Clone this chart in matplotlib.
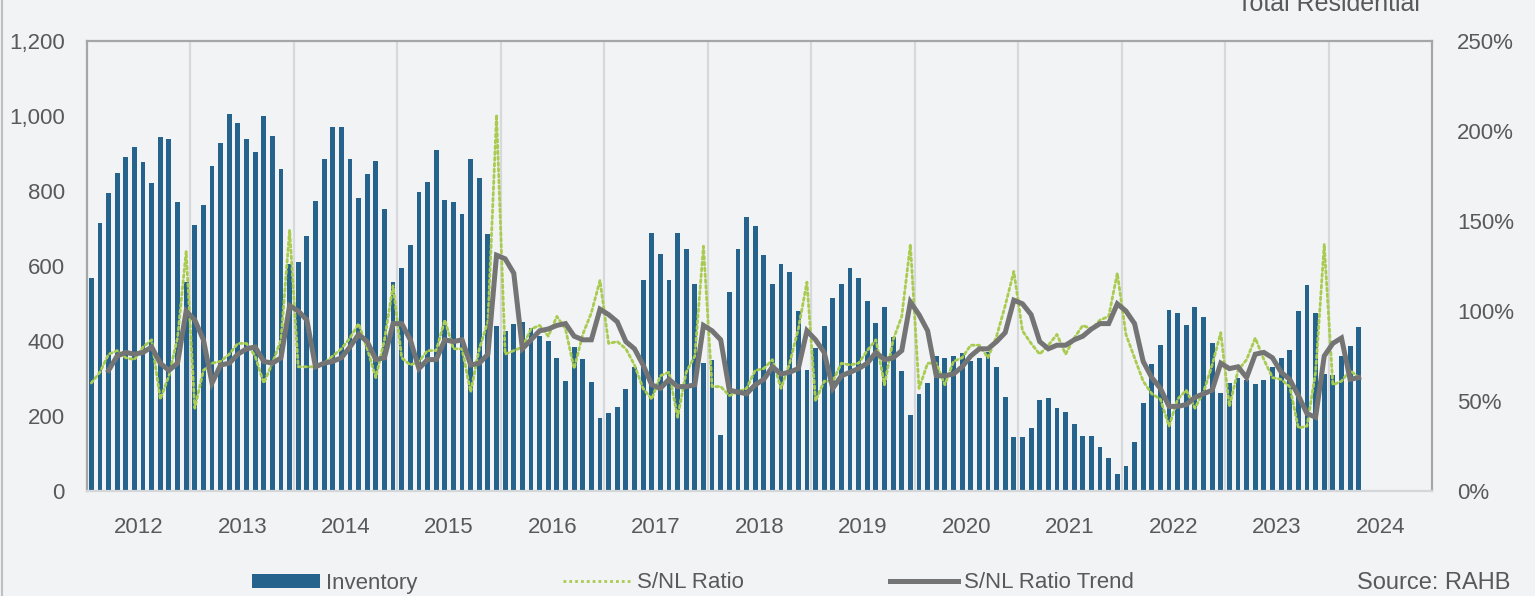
import matplotlib
matplotlib.use("Agg")
import matplotlib.pyplot as plt
from matplotlib.patches import Patch
from matplotlib.lines import Line2D
import numpy as np

plt.rcParams['font.family'] = ['Liberation Sans', 'DejaVu Sans']

# ---------------- data (monthly, Jan 2012 .. Apr 2024) ----------------
years = ['2012', '2013', '2014', '2015', '2016', '2017', '2018',
         '2019', '2020', '2021', '2022', '2023', '2024']

inventory = [
    567, 714, 794, 849, 892, 917, 878, 821, 943, 940, 770, 557,      # 2012
    710, 762, 867, 927, 1006, 982, 938, 904, 999, 946, 858, 605,     # 2013
    612, 679, 773, 886, 972, 970, 885, 781, 845, 880, 753, 557,      # 2014
    595, 657, 798, 824, 909, 777, 770, 739, 885, 835, 686, 440,      # 2015
    428, 445, 452, 435, 414, 401, 354, 294, 383, 352, 292, 195,      # 2016
    207, 225, 272, 330, 562, 688, 632, 562, 688, 646, 551, 341,      # 2017
    350, 150, 530, 645, 731, 707, 629, 553, 605, 584, 479, 322,      # 2018
    381, 439, 515, 551, 594, 567, 508, 448, 491, 411, 320, 202,      # 2019
    259, 287, 361, 356, 359, 368, 348, 356, 370, 331, 250, 144,      # 2020
    143, 169, 242, 247, 221, 212, 180, 148, 147, 117, 87, 45,        # 2021
    68, 131, 236, 340, 389, 484, 475, 444, 490, 463, 396, 261,       # 2022
    287, 301, 296, 285, 297, 330, 356, 377, 479, 549, 474, 312,      # 2023
    309, 359, 388, 438,                                              # 2024
]

snl_ratio = [
    60, 66, 76, 78, 74, 73, 80, 84, 51, 64, 85, 133,
    46, 67, 71, 72, 76, 82, 82, 75, 60, 71, 84, 145,
    69, 69, 69, 71, 75, 79, 85, 93, 79, 63, 84, 114,
    74, 70, 72, 78, 78, 95, 79, 79, 55, 79, 94, 209,
    76, 78, 80, 90, 92, 86, 97, 90, 68, 87, 99, 117,
    82, 83, 79, 70, 57, 51, 64, 66, 41, 66, 75, 136,
    58, 58, 53, 55, 57, 67, 68, 73, 57, 71, 90, 116,
    50, 61, 61, 71, 70, 71, 78, 84, 59, 84, 97, 137,
    57, 71, 71, 59, 72, 74, 81, 81, 74, 86, 103, 122,
    89, 82, 76, 81, 87, 76, 85, 92, 90, 95, 97, 121,
    87, 74, 61, 54, 51, 36, 51, 56, 46, 55, 70, 88,
    47, 67, 73, 85, 73, 63, 62, 58, 35, 36, 66, 137,
    59, 61, 67, 63,
]

# trend starts with March 2012 (third month)
trend_start = 2
snl_trend = [
    67, 75, 77, 76, 77, 80, 71, 67, 71, 100,
    95, 84, 60, 70, 71, 76, 79, 80, 72, 71, 74, 103,
    100, 95, 69, 71, 72, 74, 80, 87, 83, 73, 74, 93,
    93, 84, 68, 73, 73, 84, 83, 84, 70, 71, 76, 131,
    129, 121, 79, 84, 89, 90, 92, 93, 86, 84, 84, 101,
    98, 94, 83, 79, 70, 59, 57, 62, 58, 58, 59, 92,
    89, 84, 56, 55, 54, 59, 62, 69, 65, 66, 68, 89,
    84, 77, 57, 64, 66, 68, 71, 77, 73, 74, 78, 105,
    98, 89, 64, 64, 65, 69, 75, 79, 79, 83, 88, 106,
    104, 98, 83, 79, 81, 81, 84, 86, 90, 93, 93, 104,
    100, 93, 72, 63, 57, 47, 47, 48, 52, 54, 56, 71,
    68, 69, 63, 76, 77, 74, 66, 62, 53, 43, 41, 75,
    82, 85, 62, 63,
]

# ---------------- style ----------------
BG = '#F2F3F5'
BAR = '#25628C'
GREEN = '#A9CB4F'
GRAY = '#747474'
TXT = '#595959'
FS = 16

W, H = 1535, 596
fig = plt.figure(figsize=(W / 100, H / 100), dpi=100, facecolor=BG)
ax = fig.add_axes([87 / W, 1 - 491 / H, (1432 - 87) / W, (491 - 41) / H])
ax.set_facecolor(BG)

x = np.arange(len(inventory))
ax.bar(x, inventory, width=0.56, color=BAR, zorder=2)

n_months = 12 * len(years)
ax.set_xlim(-0.5, n_months - 0.5)
ax.set_ylim(0, 1200)
ax.set_yticks(np.arange(0, 1201, 200))
ax.set_yticklabels([f'{v:,}' for v in range(0, 1201, 200)])

ax.set_xticks(np.arange(len(years)) * 12 + 5.5)
ax.set_xticklabels(years)
ax.set_xticks(np.arange(1, len(years)) * 12 - 0.5, minor=True)
ax.grid(which='minor', axis='x', color='#D6D8DB', linewidth=1.6, zorder=0)
ax.set_axisbelow(True)
ax.tick_params(axis='x', which='both', length=0, pad=19, labelsize=FS, labelcolor=TXT)
ax.tick_params(axis='y', length=0, pad=16, labelsize=FS, labelcolor=TXT)

for s in ['top', 'left', 'right']:
    ax.spines[s].set_color('#A6A6A6')
    ax.spines[s].set_linewidth(1.6)
ax.spines['bottom'].set_color('#D4D6D9')
ax.spines['bottom'].set_linewidth(1.6)

ax2 = ax.twinx()
ax2.set_ylim(0, 250)
ax2.set_yticks(np.arange(0, 251, 50))
ax2.set_yticklabels([f'{v}%' for v in range(0, 251, 50)])
ax2.tick_params(axis='y', length=0, pad=18, labelsize=FS, labelcolor=TXT)
for s in ax2.spines.values():
    s.set_visible(False)

ax2.plot(x, snl_ratio, color=GREEN, linewidth=2.0, linestyle=(0, (1, 1.1)),
         dash_capstyle='round', zorder=3)
xt = np.arange(trend_start, trend_start + len(snl_trend))
ax2.plot(xt, snl_trend, color=GRAY, linewidth=3.6, solid_joinstyle='miter', zorder=4)

# title (partially cut at top, as in reference)
fig.text(1420 / W, 1 - 11 / H, 'Total Residential', ha='right', va='baseline',
         fontsize=18, color=TXT)

# legend
handles = [
    Patch(facecolor=BAR, edgecolor='none'),
    Line2D([], [], color=GREEN, linewidth=2.0, linestyle=(0, (1, 1.1))),
    Line2D([], [], color=GRAY, linewidth=3.6),
]
labels = ['Inventory', 'S/NL Ratio', 'S/NL Ratio Trend']
leg = fig.legend(handles, labels, loc='center', bbox_to_anchor=(693 / W, 1 - 583 / H),
                 ncol=3, frameon=False, fontsize=FS, handlelength=3.06,
                 handletextpad=0.27, columnspacing=6.55, handleheight=0.6, borderpad=0)
for t in leg.get_texts():
    t.set_color(TXT)

fig.text(1510 / W, 1 - 583 / H, 'Source: RAHB', ha='right', va='center',
         fontsize=17, color=TXT)

# outer frame edge on left
fig.add_artist(Line2D([1.5 / W, 1.5 / W], [0, 1], transform=fig.transFigure,
                      color='#BFBFBF', linewidth=1.5))

fig.savefig('out.png', dpi=100, facecolor=BG)
